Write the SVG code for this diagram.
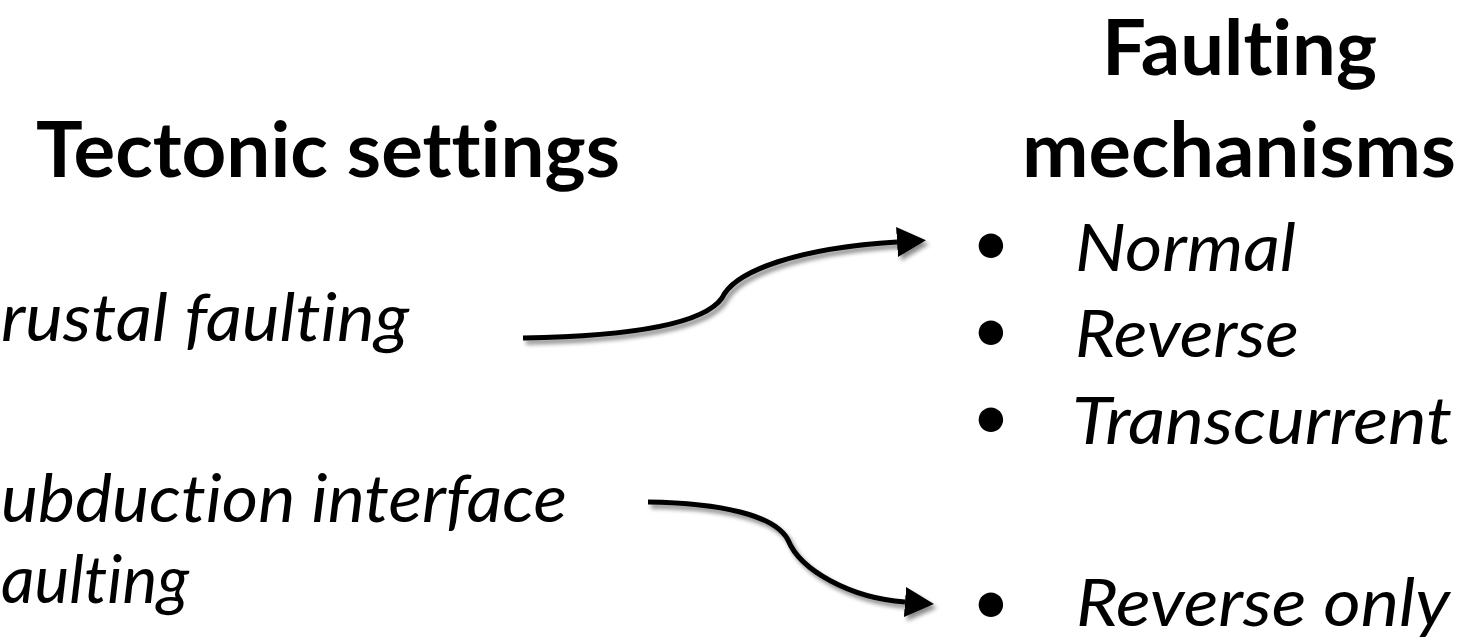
<svg xmlns="http://www.w3.org/2000/svg" width="1463" height="640" viewBox="0 0 1463 640">
<style>
text{font-variant-ligatures:none;font-feature-settings:"liga" 0,"clig" 0}
.h{font-family:Lato,"Liberation Sans",sans-serif;font-weight:bold;font-size:77px;fill:#000}
.t{font-family:Lato,"Liberation Sans",sans-serif;font-style:italic;font-size:66px;fill:#000}
.b{font-family:Lato,"Liberation Sans",sans-serif;font-size:66px;fill:#000}
.c{fill:none;stroke:#000;stroke-width:5}
</style>
<defs>
<filter id="sh" x="-10%" y="-30%" width="130%" height="170%">
<feDropShadow dx="3" dy="4" stdDeviation="2" flood-color="#000" flood-opacity="0.45"/>
</filter>
<marker id="ah" markerUnits="userSpaceOnUse" markerWidth="32" markerHeight="32" refX="0" refY="15" orient="auto" viewBox="0 0 32 32">
<path d="M0,0 L29,15 L0,30 z" fill="#000"/>
</marker>
</defs>
<rect width="1463" height="640" fill="#fff"/>
<g id="heading-left"><text class="h" x="36" y="177" textLength="584" lengthAdjust="spacingAndGlyphs">Tectonic settings</text></g>
<g id="heading-right">
<text class="h" x="1102" y="75" textLength="275" lengthAdjust="spacingAndGlyphs">Faulting</text>
<text class="h" x="1022" y="177" textLength="434" lengthAdjust="spacingAndGlyphs">mechanisms</text>
</g>
<g id="node-crustal"><text class="t" x="1" y="341" textLength="408" lengthAdjust="spacingAndGlyphs">rustal faulting</text></g>
<g id="node-subduction">
<text class="t" x="1" y="522" textLength="566" lengthAdjust="spacingAndGlyphs">ubduction interface</text>
<text class="t" x="1" y="603" textLength="188" lengthAdjust="spacingAndGlyphs">aulting</text>
</g>
<g id="node-mechanisms">
<text class="b" x="991" y="265" text-anchor="middle">•</text>
<text class="t" x="1075" y="271" textLength="221" lengthAdjust="spacingAndGlyphs">Normal</text>
<text class="b" x="991" y="352" text-anchor="middle">•</text>
<text class="t" x="1075" y="357" textLength="224" lengthAdjust="spacingAndGlyphs">Reverse</text>
<text class="b" x="991" y="439" text-anchor="middle">•</text>
<text class="t" x="1072" y="444" textLength="380" lengthAdjust="spacingAndGlyphs">Transcurrent</text>
</g>
<g id="node-reverse-only">
<text class="b" x="991" y="624" text-anchor="middle">•</text>
<text class="t" x="1076" y="626" textLength="374" lengthAdjust="spacingAndGlyphs">Reverse only</text>
</g>
<g id="connectors" filter="url(#sh)">
<path class="c" d="M523,338 C640,336 705,322 722,298 C735,270 800,248 897,242" marker-end="url(#ah)"/>
<path class="c" d="M648,502 C720,503 775,515 788,540 C800,570 850,598 905,602" marker-end="url(#ah)"/>
</g>
</svg>
